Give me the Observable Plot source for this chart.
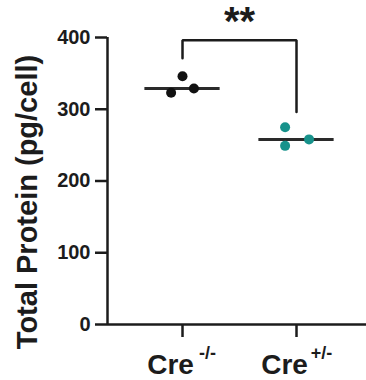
<!DOCTYPE html>
<html>
<head>
<meta charset="utf-8">
<script src="https://cdn.jsdelivr.net/npm/d3@7"></script>
<script src="https://cdn.jsdelivr.net/npm/@observablehq/plot@0.6"></script>
<style>
  html, body { margin: 0; padding: 0; background: #fff; }
  #chart svg { display: block; }
</style>
</head>
<body>
<div id="chart"></div>
<script>
// ---- data ----
const groups = ["Cre-/-", "Cre+/-"];
const groupBase = ["Cre", "Cre"];
const groupSup = ["-/-", "+/-"];
const groupColors = ["#111111", "#17928b"];
// individual replicate values (pg/cell) and their horizontal jitter within the group
const creNeg = [323, 346, 329];
const crePos = [275, 249, 258];
const jitterNeg = [-0.1, 0.0, 0.1];
const jitterPos = [-0.1, -0.1, 0.11];
const yTicks = [0, 100, 200, 300, 400];
// significance bracket
const bracketFrom = 0, bracketTo = 1;
const bracketTop = 396, bracketLeftEnd = 371, bracketRightEnd = 296;
const bracketLabel = "**";
const bracketLabelY = 422;
const yLabel = "Total Protein (pg/cell)";

// ---- derived tables ----
const points = [
  ...creNeg.map((v, i) => ({g: 0, x: 0 + jitterNeg[i], y: v})),
  ...crePos.map((v, i) => ({g: 1, x: 1 + jitterPos[i], y: v}))
];
const medians = [creNeg, crePos].map((vals, g) => ({g, y: d3.median(vals)}));
const halfWidth = 0.33;
const bracket = [
  {x: bracketFrom, y: bracketLeftEnd},
  {x: bracketFrom, y: bracketTop},
  {x: bracketTo, y: bracketTop},
  {x: bracketTo, y: bracketRightEnd}
];
const xDomain = [-0.658, 1.614];
const groupIdx = groups.map((_, i) => i);

const font = "'Liberation Sans', Arial, Helvetica, sans-serif";
const ink = "#1c1c1c";

const chart = Plot.plot({
  width: 366,
  height: 380,
  marginLeft: 107,
  marginRight: 0,
  marginTop: 37,
  marginBottom: 56,
  style: {fontFamily: font, fontWeight: "bold", color: ink, background: "#fff"},
  x: {type: "linear", domain: xDomain, axis: null},
  y: {domain: [0, 400], axis: null},
  color: {type: "ordinal", domain: [0, 1], range: groupColors},
  marks: [
    // axes lines
    Plot.ruleY([0], {stroke: ink, strokeWidth: 2.5}),
    Plot.ruleX([xDomain[0]], {y1: 0, y2: 400, stroke: ink, strokeWidth: 2.5}),
    Plot.axisY({ticks: yTicks, tickSize: 12, tickPadding: 5, fontSize: 20, fontWeight: "bold", strokeWidth: 2.5, stroke: ink, label: null}),
    Plot.axisX({ticks: groupIdx, tickFormat: () => "", tickSize: 13, strokeWidth: 2.5, stroke: ink, label: null}),
    // x category labels with superscripts
    Plot.text(groupIdx, {x: d => d, text: d => groupBase[d], frameAnchor: "bottom", dy: 30, dx: -12, lineAnchor: "top", fontSize: 28, fontWeight: "bold", fill: ink}),
    Plot.text(groupIdx, {x: d => d, text: d => groupSup[d], frameAnchor: "bottom", dy: 22, dx: 25, lineAnchor: "top", fontSize: 18, fontWeight: "bold", fill: ink}),
    // y axis title
    Plot.text([yLabel], {frameAnchor: "left", text: d => d, rotate: -90, dx: -80, dy: 21, fontSize: 29, fontWeight: "bold", fill: ink, textAnchor: "middle", lineAnchor: "middle"}),
    // medians
    Plot.ruleY(medians, {x1: d => d.g - halfWidth, x2: d => d.g + halfWidth, y: "y", stroke: "#2a2a2a", strokeWidth: 3}),
    // points
    Plot.dot(points, {x: "x", y: "y", fill: "g", r: 5, stroke: null}),
    // bracket
    Plot.line(bracket, {x: "x", y: "y", stroke: ink, strokeWidth: 2.5, strokeLinejoin: "miter", curve: "linear"}),
    Plot.text([bracketLabel], {x: (bracketFrom + bracketTo) / 2, y: bracketLabelY, text: d => d, fontSize: 40, fontWeight: "bold", fill: ink, lineAnchor: "middle"})
  ]
});
document.getElementById("chart").appendChild(chart);
</script>
</body>
</html>
